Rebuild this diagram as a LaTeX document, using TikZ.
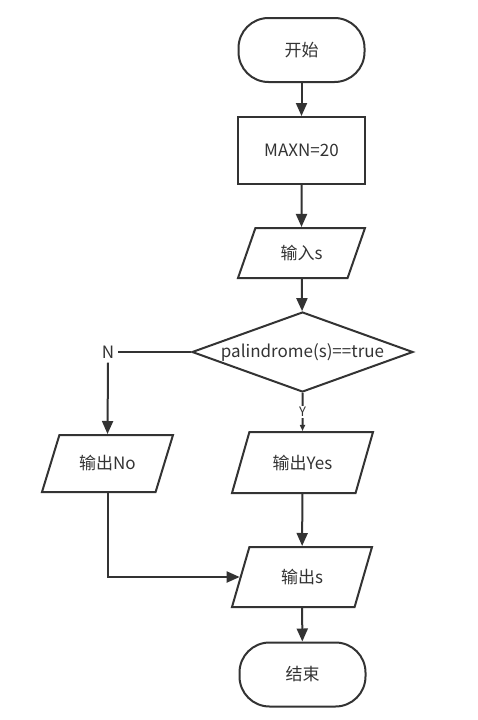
\documentclass[tikz,border=0pt]{standalone}
\usepackage{fontspec}
\setmainfont{Noto Sans CJK SC}
\usepackage{xcolor}
\usetikzlibrary{arrows.meta,shapes.geometric,positioning}
\definecolor{linegray}{HTML}{333333}
\definecolor{textgray}{HTML}{333333}
\tikzset{
  terminal/.style=
  {
    draw=linegray,
    rounded corners=30pt,
    minimum width=126pt,
    minimum height=64pt
  },
  process/.style=
  {
    draw=linegray,
    minimum width=127pt,
    minimum height=67pt
  },
  io/.style=
  {
    draw=linegray,
    trapezium,
    trapezium left angle=42,
    trapezium right angle=138,
    trapezium stretches body=true,
    inner sep=0pt
  },
  decision/.style=
  {
    draw=linegray,
    diamond,
    aspect=2.76,
    inner sep=0pt,
    minimum width=221pt,
    minimum height=80pt
  },
  flow/.style=
  {
    draw=linegray,
    -{Triangle[width=11pt,length=13pt]}
  },
  flowsmall/.style=
  {
    draw=linegray,
    -{Triangle[width=5pt,length=6pt]}
  }
 }

\begin{document}
\begin{tikzpicture}[x=1pt, y=-1pt, line width=2pt, text=textgray, font=\fontsize{17}{20}\selectfont]
          \useasboundingbox (0,0) rectangle (478,720);
          \node[terminal] (start) at (301.5,50) {开始};
          \node[process] (maxn) at (301.5,150.5) {MAXN=20};
          \node[io, minimum width=127pt, minimum height=50pt] (input) at (301.5,253) {输入s};
          \node[decision] (check) at (302.5,352) {palindrome(s)==true};
          \node (nlabel) at (108,352) {N};
          \node[io, minimum width=131pt, minimum height=57pt] (outno) at (107.5,463.5) {输出No};
          \node[io, minimum width=141pt, minimum height=61pt] (outyes) at (302.5,462.5) {输出Yes};
          \node[io, minimum width=140pt, minimum height=60pt] (outs) at (302,577) {输出s};
          \node[terminal] (stop) at (302.5,674.5) {结束};
          \draw[flow] (start) -- (maxn);
          \draw[flow] (maxn) -- (input);
          \draw[flow] (input) -- (check);
          \draw[draw=linegray] (check.west) -- (nlabel.east);
          \draw[flow] (nlabel.south) -- (outno.north);
          \draw[flowsmall] (check.south) -- node[fill=white, inner sep=1pt, font=\fontsize{13}{15}\selectfont] {Y} (outyes.north);
          \draw[flow] (outyes) -- (outs);
          \draw[flow] (outno.south) |- (outs.west);
          \draw[flow] (outs) -- (stop);
        \end{tikzpicture}
\end{document}
